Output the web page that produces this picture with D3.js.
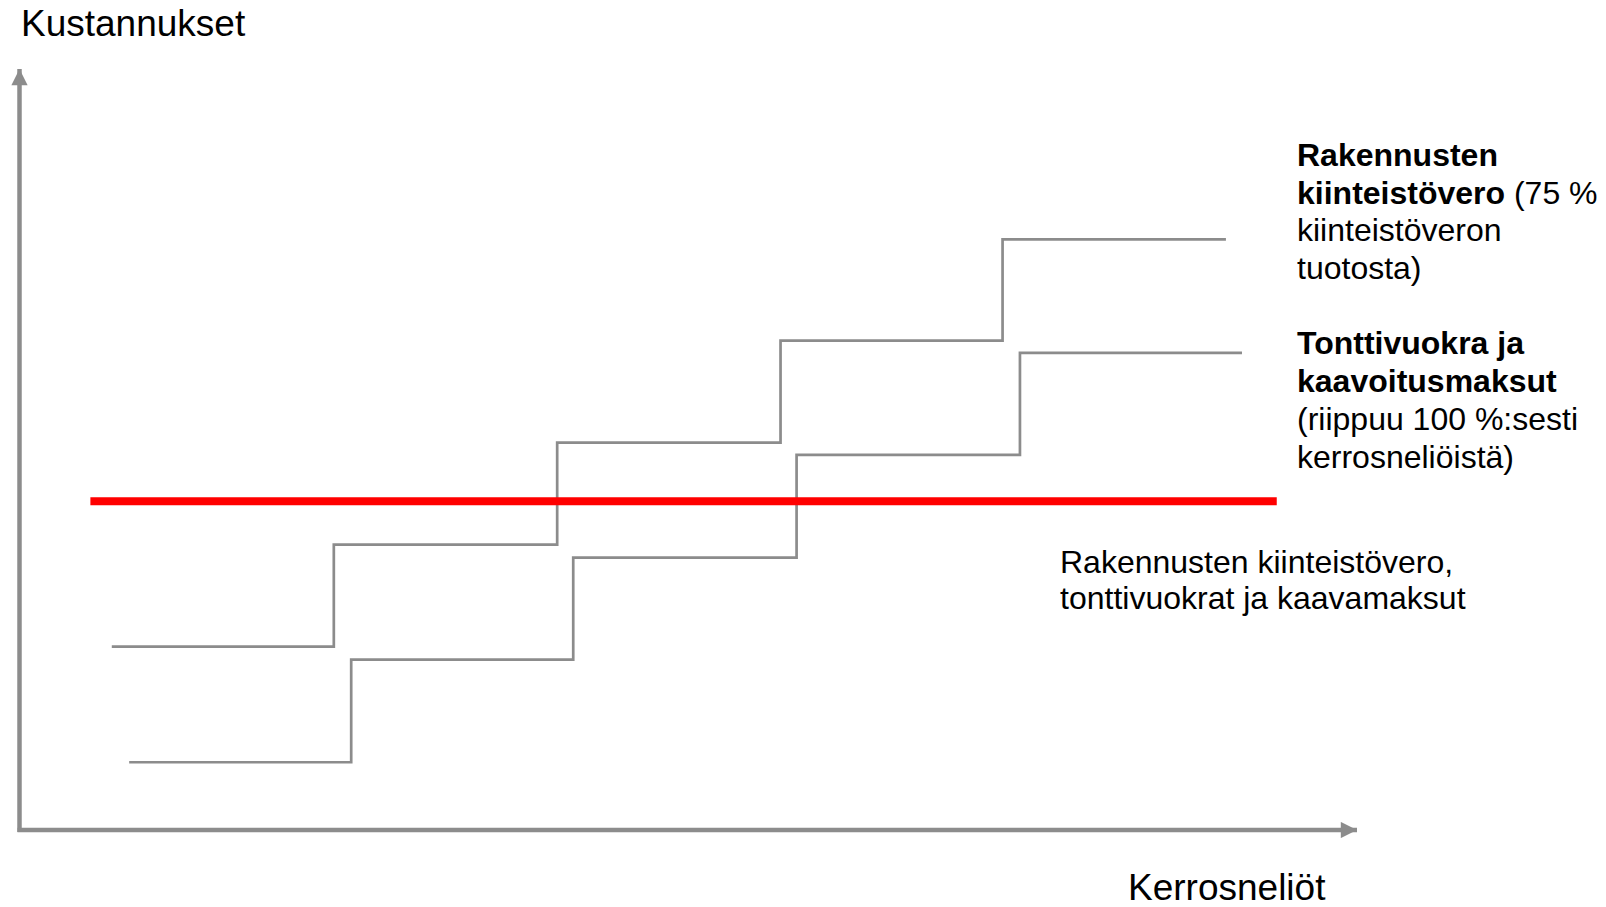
<!DOCTYPE html>
<html>
<head>
<meta charset="utf-8">
<script src="https://cdn.jsdelivr.net/npm/d3@7"></script>
<style>
  body { margin: 0; background: #fff; }
  svg text { font-family: "Liberation Sans", Arial, sans-serif; fill: #000; }
</style>
</head>
<body>
<div id="chart"></div>
<script>
// data (arbitrary units, axes have no ticks)
var upperX = [6.9, 23.5, 40.2, 56.9, 73.5, 90.2];
var upperY = [24.1, 37.5, 50.9, 64.3, 77.6, 77.6];
var lowerX = [8.2, 24.8, 41.4, 58.1, 74.8, 91.4];
var lowerY = [8.9, 22.4, 35.8, 49.3, 62.7, 62.7];
var flatX = [5.3, 94];
var flatY = [43.2, 43.2];

var W = 1606, H = 907;
var AXIS_COLOR = '#8c8c8c';

var svg = d3.select('#chart').append('svg')
  .attr('width', W).attr('height', H);

var x = d3.scaleLinear().domain([0, 100]).range([19.5, 1357]);
var y = d3.scaleLinear().domain([0, 100]).range([830, 69]);

// arrow heads
var defs = svg.append('defs');
defs.append('marker')
  .attr('id', 'arrow')
  .attr('viewBox', '0 0 10 10')
  .attr('refX', 10).attr('refY', 5)
  .attr('markerWidth', 3.8).attr('markerHeight', 3.6)
  .attr('markerUnits', 'strokeWidth')
  .attr('orient', 'auto')
  .append('path')
  .attr('d', 'M0,0 L10,5 L0,10 Z')
  .attr('fill', AXIS_COLOR);

// axes
svg.append('line')
  .attr('x1', x(0) - 2).attr('y1', y(0))
  .attr('x2', x(100)).attr('y2', y(0))
  .attr('stroke', AXIS_COLOR).attr('stroke-width', 4.5)
  .attr('marker-end', 'url(#arrow)');

svg.append('line')
  .attr('x1', x(0)).attr('y1', y(0) + 2)
  .attr('x2', x(0)).attr('y2', y(100))
  .attr('stroke', AXIS_COLOR).attr('stroke-width', 4.5)
  .attr('marker-end', 'url(#arrow)');

// step lines
var stepLine = d3.line()
  .x(function(d){ return x(d[0]); })
  .y(function(d){ return y(d[1]); })
  .curve(d3.curveStepAfter);

function zip(xs, ys){
  return xs.map(function(v, i){ return [v, ys[i]]; });
}

svg.append('path')
  .attr('d', stepLine(zip(upperX, upperY)))
  .attr('fill', 'none')
  .attr('stroke', AXIS_COLOR)
  .attr('stroke-width', 2.7);

svg.append('path')
  .attr('d', stepLine(zip(lowerX, lowerY)))
  .attr('fill', 'none')
  .attr('stroke', AXIS_COLOR)
  .attr('stroke-width', 2.7);

// red flat line
svg.append('path')
  .attr('d', d3.line()
    .x(function(d){ return x(d[0]); })
    .y(function(d){ return y(d[1]); })(zip(flatX, flatY)))
  .attr('stroke', '#ff0000')
  .attr('stroke-width', 8);

// axis titles
svg.append('text')
  .attr('x', 21).attr('y', 36)
  .attr('font-size', 37)
  .text('Kustannukset');

svg.append('text')
  .attr('x', 1128).attr('y', 900)
  .attr('font-size', 37)
  .text('Kerrosneliöt');

// labels: each line is list of [text, bold]
function label(x0, y0, step, lines){
  var t = svg.append('text')
    .attr('x', x0).attr('y', y0)
    .attr('font-size', 32);
  lines.forEach(function(line, i){
    line.forEach(function(part, j){
      var ts = t.append('tspan').text(part[0])
        .attr('font-weight', part[1] ? 'bold' : 'normal');
      if(j == 0){
        ts.attr('x', x0).attr('dy', i == 0 ? 0 : step);
      }
    });
  });
}

label(1297, 166, 37.7, [
  [['Rakennusten', true]],
  [['kiinteistövero', true], [' (75 %', false]],
  [['kiinteistöveron', false]],
  [['tuotosta)', false]]
]);

label(1297, 354, 38, [
  [['Tonttivuokra ja', true]],
  [['kaavoitusmaksut', true]],
  [['(riippuu 100 %:sesti', false]],
  [['kerrosneliöistä)', false]]
]);

label(1060, 573, 36, [
  [['Rakennusten kiinteistövero,', false]],
  [['tonttivuokrat ja kaavamaksut', false]]
]);
</script>
</body>
</html>
